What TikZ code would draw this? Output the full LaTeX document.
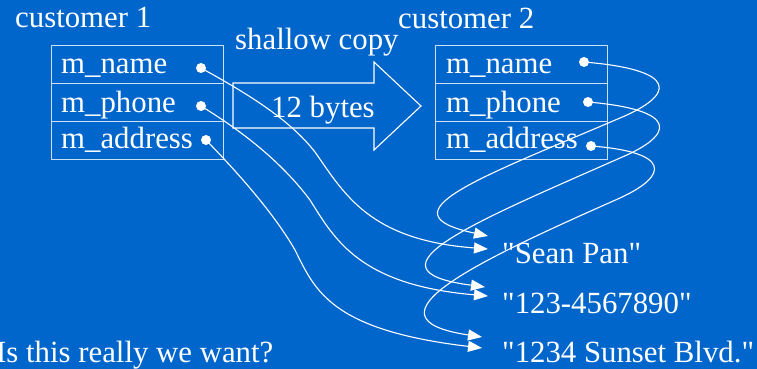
\documentclass[tikz,border=0pt]{standalone}
\usepackage{fontspec}
\setmainfont{Liberation Serif}[Ligatures=TeXOff]
\usetikzlibrary{arrows.meta}
\definecolor{bg}{HTML}{0066CC}
\tikzset{
  lbl/.style={anchor=base west, inner sep=0pt, text=white, font=\fontsize{30.8}{36}\selectfont},
  rowbox/.style={draw=white!80!bg, line width=1.4pt, anchor=north west, inner sep=0pt, minimum width=172pt, minimum height=38pt},
  dot/.style={circle, fill=white, inner sep=0pt, minimum size=10pt},
  link/.style={draw=white, line width=1.1pt, -{Triangle[length=14pt,width=11pt]}},
  bigarrow/.style={draw=white, line width=1.1pt}
}
\begin{document}
\begin{tikzpicture}[x=1pt,y=-1pt]
\fill[bg] (0,0) rectangle (757,369);
\useasboundingbox (0,0) rectangle (757,369);

% titles
\node[lbl] (c1) at (15,28) {customer 1};
\node[lbl] (c2) at (398,29) {customer 2};
\node[lbl] (sc) at (235,50) {shallow copy};

% big arrow
\draw[bigarrow] (233,83) -- (374,83) -- (374,62) -- (421,106) -- (374,150) -- (374,128) -- (233,128) -- cycle;
\node[lbl] (nb) at (271,117) {12 bytes};

% box 1
\node[rowbox] (a1) at (51,45) {};
\node[rowbox] (a2) at (51,83) {};
\node[rowbox] (a3) at (51,121) {};
\node[lbl] (ta1) at (61,74) {m\_name};
\node[lbl] (ta2) at (61,112) {m\_phone};
\node[lbl] (ta3) at (61,148) {m\_address};

% box 2
\node[rowbox] (b1) at (435,45) {};
\node[rowbox] (b2) at (435,83) {};
\node[rowbox] (b3) at (435,121) {};
\node[lbl] (tb1) at (446,74) {m\_name};
\node[lbl] (tb2) at (446,112) {m\_phone};
\node[lbl] (tb3) at (446,148) {m\_address};

% strings
\node[lbl] (s1) at (502,263) {"Sean Pan"};
\node[lbl] (s2) at (502,313) {"123-4567890"};
\node[lbl] (s3) at (502,362) {"1234 Sunset Blvd."};
\node[lbl] (q) at (-4,362) {Is this really we want?};

% dots
\node[dot] (da1) at (201,68) {};
\node[dot] (da2) at (201,106) {};
\node[dot] (da3) at (206,140) {};
\node[dot] (db1) at (584,62) {};
\node[dot] (db2) at (588,102) {};
\node[dot] (db3) at (591,146) {};

% arrow tips
\coordinate (ea1) at (488,249);
\coordinate (ea2) at (488,296);
\coordinate (ea3) at (482,348);
\coordinate (eb1) at (488,236);
\coordinate (eb2) at (485,287);
\coordinate (eb3) at (482,337);

% links from customer 1
\draw[link] (da1.center) .. controls (250,95) and (290,120) .. (315,152)
            .. controls (345,195) and (370,240) .. (ea1);
\draw[link] (da2.center) .. controls (240,130) and (280,160) .. (310,200)
            .. controls (335,240) and (360,285) .. (ea2);
\draw[link] (da3.center) .. controls (240,175) and (275,215) .. (295,250)
            .. controls (315,290) and (330,330) .. (ea3);

% links from customer 2
\draw[link] (db1.center) .. controls (680,70) and (675,95) .. (620,118)
            .. controls (480,178) and (380,213) .. (eb1);
\draw[link] (db2.center) .. controls (680,110) and (675,135) .. (620,158)
            .. controls (480,220) and (355,270) .. (eb2);
\draw[link] (db3.center) .. controls (670,152) and (670,175) .. (620,198)
            .. controls (480,260) and (355,318) .. (eb3);
\end{tikzpicture}
\end{document}
